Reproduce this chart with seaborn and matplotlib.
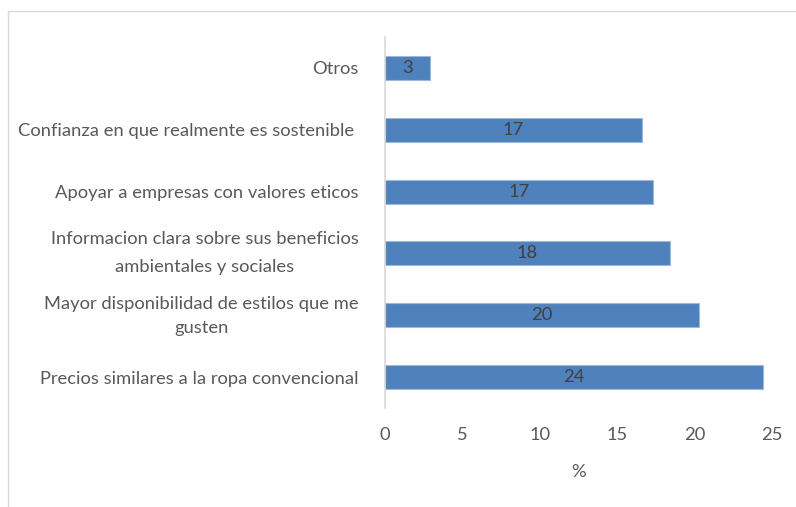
import matplotlib
matplotlib.use("Agg")
import matplotlib.pyplot as plt
import matplotlib.transforms as mtransforms
import seaborn as sns
import pandas as pd
from matplotlib.patches import Rectangle

categories = [
    "Otros",
    "Confianza en que realmente es sostenible ",
    "Apoyar a empresas con valores eticos",
    "Informacion clara sobre sus beneficios\nambientales y sociales",
    "Mayor disponibilidad de estilos que me\ngusten",
    "Precios similares a la ropa convencional",
]
values = [2.9, 16.6, 17.3, 18.4, 20.3, 24.4]
xticks = [0, 5, 10, 15, 20, 25]

df = pd.DataFrame({"cat": categories, "val": values})

sns.set_theme(style="white")
plt.rcParams["font.family"] = ["Lato", "DejaVu Sans"]

FS = 13.2

fig = plt.figure(figsize=(7.96, 5.07), dpi=100)
ax = fig.add_axes([385 / 796, 1 - 408 / 507, (772 - 385) / 796, (408 - 37) / 507])

sns.barplot(data=df, x="val", y="cat", orient="h", color="#4F81BD",
            saturation=1, width=0.39, edgecolor="#9DB9DD", linewidth=0.8, ax=ax)

for cont in ax.containers:
    ax.bar_label(cont, labels=[f"{v:.0f}" for v in values], label_type="center",
                 color="#404040", fontsize=FS)

ax.set_xlim(0, 25)
ax.set_ylim(5.5, -0.5)
ax.set_xticks(xticks)
ax.set_xticklabels([str(t) for t in xticks])
ax.set_xlabel("%", color="#595959", fontsize=FS, labelpad=15)
ax.set_ylabel("")
ax.tick_params(axis="x", length=0, pad=14, labelcolor="#595959", labelsize=FS)
ax.tick_params(axis="y", length=0, pad=19, labelcolor="#595959", labelsize=FS)
for lab in ax.get_yticklabels():
    lab.set_multialignment("center")
    txt = lab.get_text()
    if txt.startswith("Informacion"):
        lab.set_linespacing(1.95)
        lab.set_transform(lab.get_transform() +
                          mtransforms.ScaledTranslation(0, 0.08, fig.dpi_scale_trans))
    elif txt.startswith("Mayor"):
        lab.set_linespacing(1.65)
        lab.set_transform(lab.get_transform() +
                          mtransforms.ScaledTranslation(0, 0.05, fig.dpi_scale_trans))

for s in ["top", "right", "bottom"]:
    ax.spines[s].set_visible(False)
ax.spines["left"].set_color("#D9D9D9")
ax.spines["left"].set_linewidth(1.2)

fig.patches.append(Rectangle((8 / 796, -0.01), 1.0, 1 - 11 / 507 + 0.01,
                             transform=fig.transFigure, fill=False,
                             edgecolor="#D9D9D9", linewidth=1))

fig.savefig("out.png", dpi=100)
